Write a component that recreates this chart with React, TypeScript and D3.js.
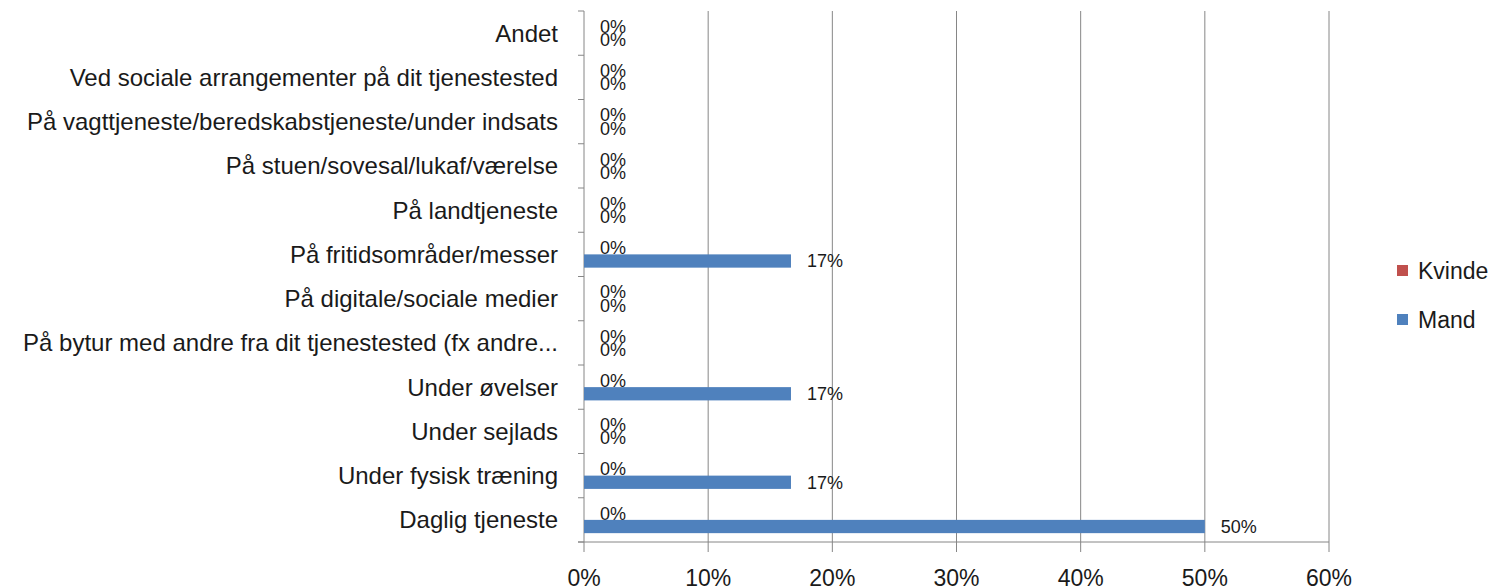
import React from 'react'
import * as d3 from 'd3'

// categories top to bottom
const categories = [
  'Andet',
  'Ved sociale arrangementer på dit tjenestested',
  'På vagttjeneste/beredskabstjeneste/under indsats',
  'På stuen/sovesal/lukaf/værelse',
  'På landtjeneste',
  'På fritidsområder/messer',
  'På digitale/sociale medier',
  'På bytur med andre fra dit tjenestested (fx andre...',
  'Under øvelser',
  'Under sejlads',
  'Under fysisk træning',
  'Daglig tjeneste',
]

const kvinde = [0, 0, 0, 0, 0, 0, 0, 0, 0, 0, 0, 0]
const mand = [0, 0, 0, 0, 0, 16.67, 0, 0, 16.67, 0, 16.67, 50]

const seriesNames = ['Kvinde', 'Mand']
const seriesColors = ['#C0504D', '#4F81BD']
const xTicks = [0, 10, 20, 30, 40, 50, 60]

const width = 1493
const height = 588
const plotLeft = 584
const plotRight = 1329
const plotTop = 11
const plotBottom = 542

const font = '"Liberation Sans", Arial, sans-serif'

const App = () => {
  const x = d3.scaleLinear().domain([0, 60]).range([plotLeft, plotRight])
  const y = d3.scaleBand<string>().domain(categories).range([plotTop, plotBottom]).paddingInner(0.4).paddingOuter(0.2)
  const inner = d3.scaleBand<string>().domain(seriesNames).range([0, y.bandwidth()])
  const step = y.step()
  const values = [kvinde, mand]

  return (
    <svg width={width} height={height} style={{ position: 'absolute', left: 0, top: 0, background: '#fff' }}>
      {/* gridlines */}
      {xTicks.slice(1).map(t => (
        <line key={'g' + t} x1={x(t)} x2={x(t)} y1={plotTop} y2={plotBottom} stroke="#868686" strokeWidth={1} />
      ))}
      {/* y axis + category ticks */}
      <line x1={plotLeft} x2={plotLeft} y1={plotTop} y2={plotBottom} stroke="#868686" />
      {d3.range(categories.length + 1).map(i => (
        <line key={'yt' + i} x1={plotLeft - 6} x2={plotLeft} y1={plotTop + i * step} y2={plotTop + i * step} stroke="#868686" />
      ))}
      {/* x axis */}
      <line x1={plotLeft - 6} x2={plotRight} y1={plotBottom} y2={plotBottom} stroke="#868686" />
      {xTicks.map(t => (
        <g key={'xt' + t}>
          <line x1={x(t)} x2={x(t)} y1={plotBottom} y2={plotBottom + 10} stroke="#868686" />
          <text x={x(t)} y={plotBottom + 44} textAnchor="middle" fontSize={23} fontFamily={font} fill="#1a1a1a">{t}%</text>
        </g>
      ))}
      {/* category labels */}
      {categories.map(c => (
        <text key={'c' + c} x={558} y={(y(c) as number) + y.bandwidth() / 2} dy="0.35em" textAnchor="end" fontSize={24} fontFamily={font} fill="#1a1a1a">{c}</text>
      ))}
      {/* bars and labels */}
      {seriesNames.map((s, si) => (
        <g key={s}>
          {categories.map((c, ci) => {
            const v = values[si][ci]
            const by = (y(c) as number) + (inner(s) as number)
            return (
              <g key={c}>
                <rect x={x(0)} y={by} width={x(v) - x(0)} height={inner.bandwidth()} fill={seriesColors[si]} />
                <text x={x(v) + 16} y={by + inner.bandwidth() / 2} dy="0.35em" fontSize={18} fontFamily={font} fill="#1a1a1a">{Math.round(v)}%</text>
              </g>
            )
          })}
        </g>
      ))}
      {/* legend */}
      {seriesNames.map((s, i) => (
        <g key={'l' + s} transform={`translate(1397, ${265 + i * 49})`}>
          <rect width={11} height={11} fill={seriesColors[i]} />
          <text x={21} y={6} dy="0.35em" fontSize={23} fontFamily={font} fill="#1a1a1a">{s}</text>
        </g>
      ))}
    </svg>
  )
}

export default App
